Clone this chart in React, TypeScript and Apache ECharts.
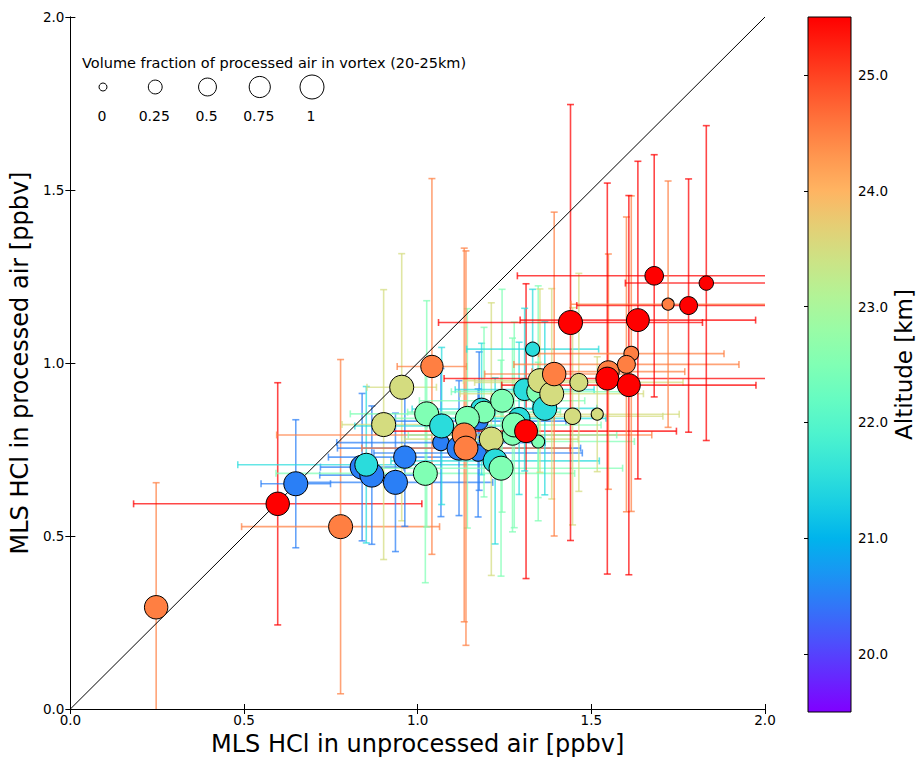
import React, { useEffect, useRef } from "react";
import * as echarts from "echarts";

// ---- data ----
const xValues = [
  0.247, 0.597, 0.649, 0.778, 0.84, 0.868, 0.852, 0.902, 0.954, 0.963, 0.936, 1.022, 1.026, 1.041,
  1.067, 1.069, 1.177, 1.184, 1.191, 1.143, 1.119, 1.174, 1.134, 1.139, 1.212, 1.223, 1.24, 1.243,
  1.292, 1.273, 1.278, 1.347, 1.312, 1.331, 1.308, 1.347, 1.352, 1.366, 1.386, 1.393, 1.464, 1.446,
  1.517, 1.549, 1.546, 1.615, 1.601, 1.608, 1.44, 1.634, 1.681, 1.831, 1.721, 1.78,
];
const yValues = [
  0.294, 0.593, 0.651, 0.527, 0.699, 0.676, 0.706, 0.822, 0.93, 0.728, 0.655, 0.681, 0.853, 0.99,
  0.77, 0.818, 0.832, 0.867, 0.858, 0.84, 0.754, 0.74, 0.792, 0.754, 0.78, 0.717, 0.696, 0.891,
  0.84, 0.792, 0.821, 0.773, 0.803, 1.04, 0.923, 0.917, 0.949, 0.869, 0.911, 0.968, 0.944, 0.846,
  0.852, 0.975, 0.955, 1.027, 0.996, 0.936, 1.117, 1.124, 1.252, 1.231, 1.17, 1.166,
];
const xErrors = [
  0, 0.415, 0.1, 0.285, 0.12, 0.15, 0.37, 0.12, 0.1, 0.22, 0.28, 0.43, 0.22, 0.1,
  0.3, 0.25, 0.25, 0.2, 0.22, 0.25, 0.35, 0.3, 0.54, 0.3, 0.25, 0.3, 0.35, 0.238,
  0.25, 0.3, 0.25, 0.277, 0.433, 0.19, 0.2, 0.25, 0.22, 0.15, 0.264, 0.2, 0.3, 0.26,
  0.236, 0.22, 0.47, 0.267, 0.324, 0.366, 0.38, 0.339, 0.394, 0.233, 0.28, 0.322,
];
const yErrors = [
  0.36, 0.35, 0.185, 0.483, 0.213, 0.2, 0.226, 0.39, 0.386, 0.2, 0.2, 0.316, 0.327, 0.543,
  0.214, 0.227, 0.2, 0.19, 0.245, 0.317, 0.195, 0.185, 0.54, 0.57, 0.394, 0.24, 0.312, 0.322,
  0.22, 0.28, 0.297, 0.229, 0.426, 0.173, 0.235, 0.306, 0.265, 0.25, 0.304, 0.468, 0.315, 0.314,
  0.166, 0.34, 0.565, 0.456, 0.426, 0.548, 0.63, 0.459, 0.35, 0.455, 0.356, 0.366,
];
const altitudes = [
  24.5, 25.5, 20.5, 24.5, 20.5, 20.5, 21.5, 23.5, 23.5, 20.5, 20.5, 22.5, 22.5, 24.5,
  20.5, 21.5, 20.5, 21.5, 22.5, 22.5, 20.5, 20.5, 24.5, 24.5, 23.5, 21.5, 22.5, 22.5,
  21.5, 22.5, 22.5, 22.5, 25.5, 21.5, 21.5, 22.5, 23.5, 21.5, 23.5, 24.5, 23.5, 23.5,
  23.5, 24.5, 25.5, 24.5, 24.5, 25.5, 25.5, 25.5, 25.5, 25.5, 24.5, 25.5,
];
const fractions = [
  0.95, 0.95, 1.0, 1.0, 1.0, 1.0, 0.9, 1.0, 1.0, 0.85, 1.0, 1.0, 1.0, 0.85,
  0.4, 1.0, 0.5, 0.8, 0.8, 1.0, 1.0, 0.4, 1.0, 1.0, 1.0, 1.0, 1.0, 0.9,
  0.8, 0.7, 1.0, 0.2, 0.9, 0.26, 0.8, 0.9, 1.0, 1.0, 1.0, 0.95, 0.5, 0.4,
  0.16, 0.8, 0.9, 0.3, 0.5, 0.9, 1.0, 0.9, 0.55, 0.28, 0.16, 0.5,
];
const axisTickValues = [0, 0.5, 1.0, 1.5, 2.0];
const altitudeTicks = [20, 21, 22, 23, 24, 25];
const legendFractions = [0, 0.25, 0.5, 0.75, 1];
const legendLabels = ["0", "0.25", "0.5", "0.75", "1"];

const ALT_MIN = 19.5;
const ALT_MAX = 25.5;
const FONT = "DejaVu Sans";

function rainbow(t: number, alpha = 1): string {
  const u = Math.max(0, Math.min(1, t));
  const r = Math.min(1, Math.abs(2 * u - 0.5));
  const g = Math.sin(Math.PI * u);
  const b = Math.max(0, Math.cos((Math.PI * u) / 2));
  return `rgba(${Math.round(r * 255)},${Math.round(g * 255)},${Math.round(b * 255)},${alpha})`;
}
function altColor(a: number, alpha = 1) {
  return rainbow((a - ALT_MIN) / (ALT_MAX - ALT_MIN), alpha);
}
function markerRadius(f: number) {
  return Math.sqrt(16 + 128 * f);
}

export default function App() {
  const ref = useRef<HTMLDivElement>(null);
  useEffect(() => {
    if (!ref.current) return;
    const chart = echarts.init(ref.current, undefined, { renderer: "svg" });

    const errData = xValues.map((x, i) => [x, yValues[i], xErrors[i], yErrors[i], altitudes[i]]);
    const ptData = xValues.map((x, i) => [x, yValues[i], altitudes[i], fractions[i]]);
    const stops = Array.from({ length: 21 }, (_, k) => rainbow(k / 20));

    const clamp = (v: number) => Math.max(0, Math.min(2, v));
    const cap = 3.5;

    const mainAxisCommon = {
      type: "value" as const,
      min: axisTickValues[0],
      max: axisTickValues[axisTickValues.length - 1],
      interval: 0.5,
      splitLine: { show: false },
      axisLine: { show: true, lineStyle: { color: "#000", width: 1 } },
      axisTick: { show: true, inside: true, length: 5, lineStyle: { color: "#000", width: 1 } },
    };

    chart.setOption({
      animation: false,
      backgroundColor: "#fff",
      grid: [
        { left: 68, top: 17, width: 697, height: 695 },
        { left: 808, top: 17, width: 43, height: 695 },
      ],
      xAxis: [
        {
          ...mainAxisCommon,
          gridIndex: 0,
          position: "bottom",
          axisLabel: {
            color: "#000",
            fontSize: 13.5,
            fontFamily: FONT,
            margin: 4,
            formatter: (v: number) => v.toFixed(1),
          },
          name: "MLS HCl in unprocessed air [ppbv]",
          nameLocation: "middle",
          nameGap: 23,
          nameTextStyle: { fontSize: 24, fontFamily: FONT, color: "#000" },
        },
        { ...mainAxisCommon, gridIndex: 0, position: "top", axisLabel: { show: false } },
        { type: "value", gridIndex: 1, min: 0, max: 1, show: false },
      ],
      yAxis: [
        {
          ...mainAxisCommon,
          gridIndex: 0,
          position: "left",
          axisLabel: {
            color: "#000",
            fontSize: 13.5,
            fontFamily: FONT,
            margin: 6,
            formatter: (v: number) => v.toFixed(1),
          },
          name: "MLS HCl in processed air [ppbv]",
          nameLocation: "middle",
          nameRotate: 90,
          nameGap: 37,
          nameTextStyle: { fontSize: 24, fontFamily: FONT, color: "#000" },
        },
        { ...mainAxisCommon, gridIndex: 0, position: "right", axisLabel: { show: false } },
        {
          type: "value",
          gridIndex: 1,
          min: ALT_MIN,
          max: ALT_MAX,
          position: "right",
          splitLine: { show: false },
          axisLine: { show: false },
          axisTick: {
            show: true,
            inside: true,
            length: 4,
            customValues: altitudeTicks,
            lineStyle: { color: "#000", width: 1 },
          },
          axisLabel: {
            show: true,
            customValues: altitudeTicks,
            color: "#000",
            fontSize: 13.5,
            fontFamily: FONT,
            margin: 7,
            formatter: (v: number) => v.toFixed(1),
          },
          name: "Altitude [km]",
          nameLocation: "middle",
          nameRotate: 90,
          nameGap: 41,
          nameTextStyle: { fontSize: 23, fontFamily: FONT, color: "#000" },
        },
      ],
      visualMap: {
        type: "continuous",
        show: false,
        min: ALT_MIN,
        max: ALT_MAX,
        dimension: 2,
        seriesIndex: 2,
        inRange: { color: stops },
      },
      series: [
        {
          type: "custom",
          xAxisIndex: 0,
          yAxisIndex: 0,
          silent: true,
          data: errData,
          encode: { x: 0, y: 1 },
          renderItem: (params: any, api: any) => {
            const x = api.value(0);
            const y = api.value(1);
            const xe = api.value(2);
            const ye = api.value(3);
            const alt = api.value(4);
            const stroke = altColor(alt, 0.72);
            const style = { stroke, lineWidth: 1.6 };
            const children: any[] = [];
            if (ye > 0) {
              const lo = y - ye;
              const hi = y + ye;
              const p0 = api.coord([x, clamp(lo)]);
              const p1 = api.coord([x, clamp(hi)]);
              children.push({ type: "line", shape: { x1: p0[0], y1: p0[1], x2: p1[0], y2: p1[1] }, style });
              if (lo >= 0)
                children.push({ type: "line", shape: { x1: p0[0] - cap, y1: p0[1], x2: p0[0] + cap, y2: p0[1] }, style });
              if (hi <= 2)
                children.push({ type: "line", shape: { x1: p1[0] - cap, y1: p1[1], x2: p1[0] + cap, y2: p1[1] }, style });
            }
            if (xe > 0) {
              const lo = x - xe;
              const hi = x + xe;
              const p0 = api.coord([clamp(lo), y]);
              const p1 = api.coord([clamp(hi), y]);
              children.push({ type: "line", shape: { x1: p0[0], y1: p0[1], x2: p1[0], y2: p1[1] }, style });
              if (lo >= 0)
                children.push({ type: "line", shape: { x1: p0[0], y1: p0[1] - cap, x2: p0[0], y2: p0[1] + cap }, style });
              if (hi <= 2)
                children.push({ type: "line", shape: { x1: p1[0], y1: p1[1] - cap, x2: p1[0], y2: p1[1] + cap }, style });
            }
            return { type: "group", children };
          },
          z: 1,
        },
        {
          type: "line",
          xAxisIndex: 0,
          yAxisIndex: 0,
          data: [
            [0, 0],
            [2, 2],
          ],
          symbol: "none",
          silent: true,
          lineStyle: { color: "#000", width: 1 },
          z: 2,
        },
        {
          type: "scatter",
          xAxisIndex: 0,
          yAxisIndex: 0,
          data: ptData,
          symbolSize: (v: number[]) => 2 * markerRadius(v[3]),
          itemStyle: { borderColor: "#000", borderWidth: 1, opacity: 1 },
          emphasis: { disabled: true },
          silent: true,
          z: 3,
        },
        {
          type: "custom",
          xAxisIndex: 2,
          yAxisIndex: 2,
          silent: true,
          data: [[0, ALT_MIN, ALT_MAX]],
          renderItem: (params: any, api: any) => {
            const p0 = api.coord([0, api.value(1)]);
            const p1 = api.coord([1, api.value(2)]);
            return {
              type: "rect",
              shape: { x: p0[0], y: p1[1], width: p1[0] - p0[0], height: p0[1] - p1[1] },
              style: {
                fill: new echarts.graphic.LinearGradient(
                  0,
                  1,
                  0,
                  0,
                  stops.map((c, k) => ({ offset: k / (stops.length - 1), color: c }))
                ),
                stroke: "#000",
                lineWidth: 1,
              },
            };
          },
          z: 1,
        },
      ],
      graphic: [
        {
          type: "text",
          left: 82,
          top: 55,
          style: {
            text: "Volume fraction of processed air in vortex (20-25km)",
            fontSize: 14.5,
            fontFamily: FONT,
            fill: "#000",
          },
        },
        ...legendFractions.map((f, i) => ({
          type: "circle",
          shape: { cx: 103 + i * 52.25, cy: 87, r: markerRadius(f) },
          style: { fill: "#fff", stroke: "#000", lineWidth: 1 },
        })),
        ...legendLabels.map((t, i) => ({
          type: "text",
          x: 102 + i * 52.25,
          y: 116,
          style: {
            text: t,
            fontSize: 14,
            fontFamily: FONT,
            fill: "#000",
            align: "center",
            verticalAlign: "middle",
          },
        })),
      ],
    });
    return () => chart.dispose();
  }, []);
  return (
    <div
      ref={ref}
      style={{ position: "absolute", left: 0, top: 0, width: 916, height: 761, background: "#fff" }}
    />
  );
}
